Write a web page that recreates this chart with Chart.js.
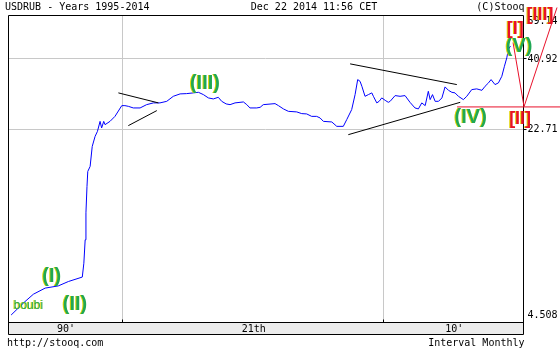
<!DOCTYPE html>
<html>
<head>
<meta charset="utf-8">
<title>USDRUB - Years 1995-2014</title>
<script src="https://cdn.jsdelivr.net/npm/chart.js@4.4.0/dist/chart.umd.min.js"></script>
<style>
  html, body { margin: 0; padding: 0; background: #fff; }
  #wrap { width: 560px; height: 350px; }
</style>
</head>
<body>
<div id="wrap"><canvas id="graph" width="560" height="350"></canvas></div>
<script>
// USDRUB monthly (decimal year, rate)
const years = [
  1995.76, 1996.29, 1996.61, 1997.06, 1997.56, 1997.95, 1998.48, 1998.54, 1998.59, 1998.62,
  1998.66, 1998.69, 1998.78, 1998.86, 1998.97, 1999.06, 1999.16, 1999.22, 1999.30, 1999.35,
  1999.54, 1999.73, 1999.99, 2000.11, 2000.24, 2000.43, 2000.69, 2000.94, 2001.20, 2001.45,
  2001.71, 2001.96, 2002.22, 2002.47, 2002.73, 2002.92, 2003.11, 2003.30, 2003.49, 2003.68,
  2003.81, 2003.98, 2004.13, 2004.32, 2004.64, 2004.77, 2004.89, 2005.15, 2005.28, 2005.40,
  2005.85, 2005.98, 2006.17, 2006.36, 2006.68, 2006.87, 2007.06, 2007.25, 2007.44, 2007.57,
  2007.70, 2008.02, 2008.21, 2008.46, 2008.59, 2008.78, 2008.91, 2009.01, 2009.10, 2009.17,
  2009.29, 2009.42, 2009.55, 2009.61, 2009.74, 2009.83, 2009.93, 2010.06, 2010.18, 2010.25,
  2010.44, 2010.63, 2010.82, 2011.01, 2011.20, 2011.33, 2011.46, 2011.59, 2011.71, 2011.78,
  2011.87, 2011.97, 2012.10, 2012.23, 2012.35, 2012.48, 2012.61, 2012.73, 2012.86, 2013.05,
  2013.18, 2013.37, 2013.56, 2013.76, 2013.88, 2014.01, 2014.11, 2014.26, 2014.39, 2014.52,
  2014.62, 2014.71, 2014.77, 2014.85
];
const usdrub = [
  4.78, 5.35, 5.69, 5.99, 6.10, 6.33, 6.57, 7.38, 8.98, 11.26,
  14.05, 15.93, 16.62, 19.65, 21.38, 22.29, 24.24, 22.94, 24.24, 23.58,
  24.24, 25.28, 27.66, 27.66, 27.50, 27.13, 27.13, 27.89, 28.30, 28.30,
  28.68, 29.91, 30.52, 30.59, 30.78, 30.93, 30.34, 29.51, 29.26, 29.66,
  28.68, 28.06, 27.89, 28.30, 28.53, 27.89, 27.13, 27.13, 27.27, 27.89,
  28.13, 27.66, 26.91, 26.37, 26.24, 25.87, 25.80, 25.28, 25.28, 24.95,
  24.24, 24.12, 23.25, 23.25, 24.59, 26.75, 30.34, 34.41, 33.92, 32.53,
  29.91, 30.34, 30.78, 29.91, 28.30, 28.68, 29.51, 28.92, 28.44, 28.68,
  30.09, 29.91, 30.09, 28.44, 27.13, 26.91, 28.30, 27.66, 31.19, 29.09,
  30.34, 28.68, 28.68, 29.51, 32.36, 31.45, 30.93, 30.78, 29.91, 29.09,
  29.91, 31.64, 31.83, 31.45, 32.53, 33.47, 34.41, 33.00, 33.47, 35.37,
  38.48, 41.29, 44.27, 45.60
];

// axes
const xMin = 1995.64;
const xMax = 2015.33;
const yTicks = [4.508, 22.71, 40.92, 59.14];
const xGridYears = [2000, 2010];
const xBandLabels = ["90'", "21th", "10'"];

// wave count drawn over the chart, in [year, rate]
const blackLines = [
  [[1999.86, 30.78], [2001.39, 28.30]],
  [[2000.24, 23.39], [2001.33, 26.53]],
  [[2008.72, 39.26], [2012.80, 33.00]],
  [[2008.65, 21.68], [2012.93, 28.44]]
];
const redLines = [
  [[2014.95, 46.95], [2015.37, 27.43], [2016.63, 62.98]],
  [[2012.81, 27.36], [2016.75, 27.36]]
];
const greenLabels = [
  ["(I)", 1997.31, 6.60],
  ["(II)", 1998.20, 5.20],
  ["(III)", 2003.17, 33.19],
  ["(IV)", 2013.33, 24.95],
  ["(V)", 2015.18, 45.39]
];
const redLabels = [
  ["[I]", 2015.03, 52.36],
  ["[II]", 2015.22, 24.80],
  ["[III]", 2015.98, 58.89]
];
const tagLabel = ["boubi", 1996.42, 5.17];

const MONO = "10px 'DejaVu Sans Mono', monospace";
const crisp = (v) => Math.floor(v) + 0.5;

window.addEventListener("load", function () {
  const ctxGraph = document.getElementById("graph").getContext("2d");

  function seg(ctx, x1, y1, x2, y2) {
    ctx.beginPath();
    ctx.moveTo(x1, y1);
    ctx.lineTo(x2, y2);
    ctx.stroke();
  }

  // grid under the line
  const gridPlugin = {
    id: "stooqGrid",
    beforeDatasetsDraw(chart) {
      const ctx = chart.ctx;
      const a = chart.chartArea;
      const sx = chart.scales.x;
      const sy = chart.scales.y;
      ctx.save();
      ctx.strokeStyle = "#c8c8c8";
      ctx.lineWidth = 1;
      xGridYears.forEach((yr) => {
        const px = crisp(sx.getPixelForValue(yr));
        seg(ctx, px, a.top, px, a.bottom);
      });
      yTicks.slice(1, -1).forEach((v) => {
        const py = crisp(sy.getPixelForValue(v));
        seg(ctx, a.left, py, a.right, py);
      });
      ctx.restore();
    }
  };

  // frame, bottom band, texts
  const framePlugin = {
    id: "stooqFrame",
    afterDatasetsDraw(chart) {
      const ctx = chart.ctx;
      const a = chart.chartArea;
      const sx = chart.scales.x;
      const sy = chart.scales.y;
      const L = crisp(a.left), R = crisp(a.right), T = crisp(a.top), B = crisp(a.bottom);
      const bandB = B + 12;
      ctx.save();

      // band with period names
      ctx.fillStyle = "#ececec";
      ctx.fillRect(L, B, R - L, bandB - B);
      ctx.strokeStyle = "#000";
      ctx.lineWidth = 1;
      seg(ctx, L, T, R, T);
      seg(ctx, L, T, L, bandB);
      seg(ctx, R, T, R, bandB);
      seg(ctx, L, B, R, B);
      seg(ctx, L, bandB, R, bandB);
      xGridYears.forEach((yr) => {
        const px = crisp(sx.getPixelForValue(yr));
        seg(ctx, px, B - 3, px, B);
      });

      ctx.fillStyle = "#000";
      ctx.font = MONO;
      ctx.textBaseline = "middle";
      ctx.textAlign = "center";
      const edges = [a.left].concat(xGridYears.map((yr) => sx.getPixelForValue(yr)), [a.right]);
      xBandLabels.forEach((lbl, i) => {
        ctx.fillText(lbl, (edges[i] + edges[i + 1]) / 2 + 1, B + 6.5);
      });

      // right axis ticks
      ctx.textAlign = "left";
      yTicks.forEach((v, i) => {
        let py = sy.getPixelForValue(v);
        if (i > 0 && i < yTicks.length - 1) seg(ctx, R, crisp(py), R + 3, crisp(py));
        py = Math.min(Math.max(py, a.top + 6.5), a.bottom - 7);
        ctx.fillText(String(v), R + 4, py);
      });

      // header and footer
      ctx.fillText("USDRUB - Years 1995-2014", 5, 7);
      ctx.textAlign = "center";
      ctx.fillText("Dec 22 2014 11:56 CET", 314, 7);
      ctx.textAlign = "right";
      ctx.fillText("(C)Stooq", R + 1, 7);
      ctx.fillText("Interval Monthly", R + 1, 343);
      ctx.textAlign = "left";
      ctx.fillText("http://stooq.com", 7, 343);
      ctx.restore();
    }
  };

  // Elliott wave marks on top
  const wavePlugin = {
    id: "waveMarks",
    afterDraw(chart) {
      const ctx = chart.ctx;
      const sx = chart.scales.x;
      const sy = chart.scales.y;
      const px = (p) => [sx.getPixelForValue(p[0]), sy.getPixelForValue(p[1])];
      ctx.save();
      ctx.lineWidth = 1;

      function poly(points, color) {
        ctx.strokeStyle = color;
        ctx.beginPath();
        points.forEach((p, i) => {
          const q = px(p);
          if (i === 0) ctx.moveTo(q[0], q[1]);
          else ctx.lineTo(q[0], q[1]);
        });
        ctx.stroke();
      }
      blackLines.forEach((l) => poly(l, "#000"));
      redLines.forEach((l) => poly(l, "#e8102a"));

      function shaded(text, x, y, font, color) {
        const q = px([x, y]);
        ctx.font = font;
        ctx.textAlign = "center";
        ctx.textBaseline = "middle";
        ctx.fillStyle = "#e2d400";
        ctx.fillText(text, q[0] - 1, q[1]);
        ctx.fillStyle = color;
        ctx.fillText(text, q[0], q[1]);
      }
      greenLabels.forEach((g) => shaded(g[0], g[1], g[2], "bold 20px 'Liberation Sans', Arial, sans-serif", "#1fa855"));
      redLabels.forEach((r) => shaded(r[0], r[1], r[2], "bold 18px 'Liberation Sans', Arial, sans-serif", "#e8102a"));
      shaded(tagLabel[0], tagLabel[1], tagLabel[2], "12px 'Liberation Sans', Arial, sans-serif", "#1fa855");
      ctx.restore();
    }
  };

  new Chart(ctxGraph, {
    type: "line",
    data: {
      datasets: [
        {
          label: "USDRUB",
          data: years.map((yr, i) => ({ x: yr, y: usdrub[i] })),
          borderColor: "#0000ff",
          borderWidth: 1,
          pointRadius: 0,
          tension: 0,
          fill: false
        }
      ]
    },
    options: {
      responsive: false,
      animation: false,
      devicePixelRatio: 1,
      layout: { padding: { left: 8, top: 15, right: 37, bottom: 28 } },
      plugins: {
        legend: { display: false },
        tooltip: { enabled: false }
      },
      scales: {
        x: { type: "linear", min: xMin, max: xMax, display: false },
        y: { type: "logarithmic", min: yTicks[0], max: yTicks[yTicks.length - 1], display: false }
      }
    },
    plugins: [gridPlugin, framePlugin, wavePlugin]
  });
});
</script>
</body>
</html>
